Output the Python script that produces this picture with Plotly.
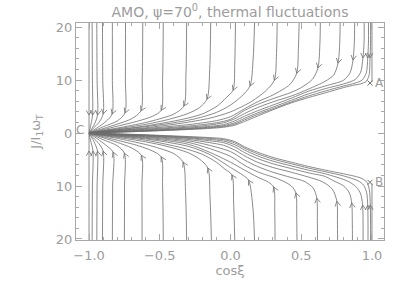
import plotly.graph_objects as go

# ---------------- text / ticks ----------------
title_text = "AMO, ψ=70<sup>0</sup>, thermal fluctuations"
x_title = "cosξ"
y_title = "J/I<sub>1</sub>ω<sub>T</sub>"
x_tick_vals = [-1.0, -0.5, 0.0, 0.5, 1.0]
x_tick_text = ["−1.0", "−0.5", "0.0", "0.5", "1.0"]
y_tick_vals = [-20, -10, 0, 10, 20]
y_tick_text = ["20", "10", "0", "10", "20"]

# ---------------- trajectories, upper half (J > 0) ----------------
upper_x = [
    [-1.0, -1.0, -1.0],
    [-0.978, -0.976, -0.975, -0.99, -1.0],
    [-0.945, -0.943, -0.94, -0.96, -0.985, -1.0],
    [-0.905, -0.903, -0.90, -0.93, -0.97, -1.0],
    [-0.835, -0.835, -0.837, -0.88, -0.94, -1.0],
    [-0.742, -0.743, -0.746, -0.8, -0.9, -1.0],
    [-0.62, -0.624, -0.633, -0.7, -0.8, -0.9, -1.0],
    [-0.475, -0.48, -0.49, -0.55, -0.65, -0.8, -0.9, -1.0],
    [-0.31, -0.315, -0.33, -0.4, -0.5, -0.6, -0.8, -0.9, -1.0],
    [-0.14, -0.147, -0.166, -0.22, -0.3, -0.45, -0.6, -0.8, -0.9, -1.0],
    [0.035, 0.03, 0.018, -0.03, -0.095, -0.2, -0.34, -0.6, -0.8, -0.9, -1.0],
    [0.17, 0.16, 0.138, 0.08, 0.0, -0.1, -0.25, -0.45, -0.7, -0.9, -1.0],
    [0.33, 0.325, 0.31, 0.25, 0.15, 0.0, -0.15, -0.35, -0.6, -0.85, -1.0],
    [0.485, 0.48, 0.468, 0.42, 0.3, 0.19, 0.1, 0.0, -0.1, -0.25, -0.45, -0.7, -0.9, -1.0],
    [0.635, 0.632, 0.618, 0.58, 0.5, 0.43, 0.3, 0.19, 0.1, 0.0, -0.1, -0.25, -0.45, -0.7, -0.9, -1.0],
    [0.775, 0.772, 0.76, 0.73, 0.67, 0.55, 0.43, 0.3, 0.19, 0.1, 0.03, -0.05, -0.2, -0.45, -0.7, -0.9, -1.0],
    [0.878, 0.875, 0.866, 0.845, 0.8, 0.67, 0.55, 0.43, 0.3, 0.19, 0.1, 0.03, -0.05, -0.2, -0.45, -0.7, -0.9, -1.0],
    [0.945, 0.944, 0.936, 0.92, 0.88, 0.8, 0.67, 0.55, 0.43, 0.3, 0.19, 0.1, 0.03, -0.05, -0.2, -0.45, -0.7, -0.9, -1.0],
    [0.975, 0.975, 0.97, 0.96, 0.93, 0.88, 0.8, 0.67, 0.55, 0.43, 0.3, 0.19, 0.1, 0.03, -0.05, -0.2, -0.45, -0.7, -0.9, -1.0],
    [0.99, 0.99, 0.986, 0.98, 0.96, 0.92, 0.88, 0.8, 0.67, 0.55, 0.43, 0.3, 0.19, 0.1, 0.03, -0.05, -0.2, -0.45, -0.7, -0.9, -1.0],
    [1.0, 1.0],
]
upper_j = [
    [20.8, 3.4, 0.0],
    [20.8, 10, 3.4, 1.2, 0.0],
    [20.8, 10, 3.4, 1.8, 0.6, 0.0],
    [20.8, 10, 3.6, 2.0, 0.9, 0.0],
    [20.8, 10, 3.6, 2.2, 1.05, 0.0],
    [20.8, 10, 3.8, 2.3, 1.2, 0.0],
    [20.8, 10, 4.2, 2.7, 1.7, 0.85, 0.0],
    [20.8, 10, 4.3, 3.2, 2.3, 1.3, 0.65, 0.0],
    [20.8, 11, 5.1, 3.6, 2.7, 2.0, 0.95, 0.5, 0.0],
    [20.8, 12, 6.4, 4.8, 3.7, 2.5, 1.65, 0.8, 0.42, 0.0],
    [20.8, 13, 8.1, 6.7, 5.1, 3.6, 2.6, 1.35, 0.65, 0.37, 0.0],
    [20.8, 14, 8.9, 7.0, 5.3, 3.9, 2.7, 1.75, 0.9, 0.33, 0.0],
    [20.8, 15, 10.0, 8.0, 6.0, 4.0, 2.8, 1.85, 1.0, 0.38, 0.0],
    [20.8, 16, 11.3, 9.2, 7.2, 5.9, 4.6, 3.1, 2.35, 1.75, 1.2, 0.65, 0.25, 0.0],
    [20.8, 17, 12.3, 10.2, 8.6, 7.7, 6.5, 5.4, 4.3, 2.6, 1.95, 1.45, 1.0, 0.55, 0.2, 0.0],
    [20.8, 17, 13.2, 11.0, 9.8, 8.3, 7.0, 5.9, 4.8, 3.7, 2.7, 1.95, 1.35, 0.85, 0.45, 0.17, 0.0],
    [20.8, 17, 13.8, 11.4, 10.0, 8.9, 7.9, 6.6, 5.3, 4.2, 3.2, 2.3, 1.6, 1.15, 0.72, 0.38, 0.14, 0.0],
    [20.8, 17, 14.2, 11.5, 10.1, 9.3, 8.4, 7.4, 6.2, 4.9, 3.8, 2.8, 1.95, 1.4, 1.0, 0.62, 0.32, 0.12, 0.0],
    [20.8, 17, 14.2, 11.4, 10.0, 9.45, 8.9, 7.95, 7.0, 5.9, 4.6, 3.5, 2.5, 1.7, 1.25, 0.9, 0.55, 0.28, 0.1, 0.0],
    [20.8, 17, 14.2, 11.0, 9.8, 9.3, 9.1, 8.6, 7.6, 6.7, 5.7, 4.4, 3.2, 2.2, 1.5, 1.1, 0.8, 0.5, 0.25, 0.08, 0.0],
    [20.8, 9.6],
]
upper_arrow_idx = [1, 2, 2, 2, 2, 2, 2, 2, 2, 2, 2, 2, 2, 2, 2, 2, 2, 2, 2, 2, None]

# ---------------- trajectories, lower half (J < 0) ----------------
lower_x = [
    [-1.0, -1.0, -1.0],
    [-0.978, -0.976, -0.972, -0.99, -1.0],
    [-0.945, -0.943, -0.94, -0.96, -0.985, -1.0],
    [-0.905, -0.903, -0.90, -0.93, -0.97, -1.0],
    [-0.835, -0.833, -0.83, -0.88, -0.94, -1.0],
    [-0.75, -0.749, -0.75, -0.8, -0.9, -1.0],
    [-0.625, -0.626, -0.63, -0.7, -0.8, -0.9, -1.0],
    [-0.475, -0.48, -0.49, -0.55, -0.65, -0.8, -0.9, -1.0],
    [-0.31, -0.318, -0.335, -0.4, -0.5, -0.6, -0.8, -0.9, -1.0],
    [-0.135, -0.145, -0.16, -0.22, -0.3, -0.45, -0.6, -0.8, -0.9, -1.0],
    [0.03, 0.022, 0.01, -0.04, -0.1, -0.2, -0.34, -0.6, -0.8, -0.9, -1.0],
    [0.17, 0.158, 0.128, 0.09, 0.0, -0.15, -0.3, -0.6, -0.8, -1.0],
    [0.315, 0.313, 0.305, 0.27, 0.19, 0.1, 0.0, -0.15, -0.3, -0.6, -0.8, -1.0],
    [0.47, 0.468, 0.462, 0.43, 0.35, 0.19, 0.1, 0.0, -0.15, -0.3, -0.6, -0.8, -1.0],
    [0.615, 0.614, 0.61, 0.585, 0.52, 0.43, 0.3, 0.19, 0.1, 0.0, -0.15, -0.3, -0.6, -0.8, -1.0],
    [0.757, 0.756, 0.752, 0.72, 0.65, 0.55, 0.43, 0.3, 0.19, 0.1, 0.03, -0.05, -0.15, -0.3, -0.6, -0.8, -1.0],
    [0.862, 0.861, 0.857, 0.84, 0.8, 0.72, 0.67, 0.55, 0.43, 0.3, 0.19, 0.1, 0.03, -0.05, -0.15, -0.3, -0.6, -0.8, -1.0],
    [0.937, 0.937, 0.934, 0.92, 0.89, 0.83, 0.67, 0.55, 0.43, 0.3, 0.19, 0.1, 0.03, -0.05, -0.15, -0.3, -0.6, -0.8, -1.0],
    [0.972, 0.972, 0.97, 0.962, 0.94, 0.9, 0.8, 0.67, 0.55, 0.43, 0.3, 0.19, 0.1, 0.03, -0.05, -0.15, -0.3, -0.6, -0.8, -1.0],
    [0.99, 0.99, 0.988, 0.982, 0.965, 0.93, 0.9, 0.8, 0.67, 0.55, 0.43, 0.3, 0.19, 0.1, 0.03, -0.05, -0.15, -0.3, -0.6, -0.8, -1.0],
    [1.0, 1.0],
]
lower_j = [
    [-20.2, -3.4, 0.0],
    [-20.2, -10, -3.4, -1.3, 0.0],
    [-20.2, -10, -3.4, -1.9, -0.65, 0.0],
    [-20.2, -10, -3.4, -2.0, -0.9, 0.0],
    [-20.2, -10, -3.6, -2.3, -1.1, 0.0],
    [-20.2, -10, -3.8, -2.4, -1.25, 0.0],
    [-20.2, -10, -4.2, -2.8, -1.75, -0.88, 0.0],
    [-20.2, -10, -4.5, -3.4, -2.4, -1.35, -0.68, 0.0],
    [-20.2, -11, -5.5, -3.9, -2.9, -2.15, -1.0, -0.5, 0.0],
    [-20.2, -12, -6.6, -4.9, -3.7, -2.5, -1.65, -0.8, -0.42, 0.0],
    [-20.2, -13, -7.9, -6.8, -5.5, -4.0, -2.8, -1.35, -0.65, -0.35, 0.0],
    [-20.2, -14, -8.9, -8.0, -6.5, -4.0, -2.5, -1.1, -0.56, 0.0],
    [-20.2, -15, -10.2, -9.3, -8.3, -7.0, -5.5, -3.6, -2.1, -0.95, -0.48, 0.0],
    [-20.2, -16, -11.3, -10.0, -8.8, -7.3, -6.1, -4.4, -2.9, -1.75, -0.8, -0.4, 0.0],
    [-20.2, -17, -12.3, -10.4, -9.1, -8.4, -7.4, -6.3, -5.1, -3.5, -2.3, -1.45, -0.68, -0.35, 0.0],
    [-20.2, -17, -12.9, -10.6, -9.2, -8.3, -7.4, -6.5, -5.5, -4.3, -3.2, -2.3, -1.8, -1.2, -0.58, -0.3, 0.0],
    [-20.2, -17, -13.2, -11.3, -10.0, -8.9, -8.2, -7.5, -6.7, -5.8, -4.8, -3.7, -2.6, -1.8, -1.45, -1.0, -0.5, -0.25, 0.0],
    [-20.2, -17, -13.6, -11.5, -10.2, -9.1, -7.7, -7.0, -6.2, -5.3, -4.3, -3.2, -2.2, -1.5, -1.2, -0.88, -0.43, -0.21, 0.0],
    [-20.2, -17, -13.6, -11.2, -9.8, -9.0, -8.1, -7.3, -6.6, -5.8, -4.9, -3.9, -2.85, -1.85, -1.25, -1.0, -0.75, -0.37, -0.18, 0.0],
    [-20.2, -17, -13.6, -10.8, -9.3, -8.6, -8.3, -7.7, -7.0, -6.3, -5.5, -4.6, -3.6, -2.6, -1.6, -1.05, -0.85, -0.65, -0.32, -0.15, 0.0],
    [-20.2, -9.5],
]
lower_arrow_idx = [1, 2, 2, 2, 2, 2, 2, 2, 2, 2, 2, 2, 2, 2, 2, 2, 2, 2, 2, 2, None]

# ---------------- special points ----------------
marked_names = ["A", "B"]
marked_x = [0.986, 0.986]
marked_j = [9.45, -9.3]
c_name = "C"
c_x = -1.0
c_j = 0.0

# ---------------- style ----------------
W, H = 407, 291
ML, MR, MT, MB = 76, 23, 23, 51
XR = [-1.092, 1.085]
YR = [-20.2, 20.8]
LINE = "#6c6c6c"
AXC = "#a8a8a8"
TXT = "#9c9c9c"
FONT = "DejaVu Sans"

pw = W - ML - MR
ph = H - MT - MB
sx = pw / (XR[1] - XR[0])
sy = ph / (YR[1] - YR[0])

fig = go.Figure()


def add_curves(xs_list, js_list):
    for xs, js in zip(xs_list, js_list):
        fig.add_trace(go.Scatter(
            x=xs, y=js, mode="lines",
            line=dict(color=LINE, width=0.8, shape="spline", smoothing=0.8),
            hoverinfo="skip", showlegend=False))


def unit(a, b):
    dx = (b[0] - a[0]) * sx
    dy = (b[1] - a[1]) * sy
    n = (dx * dx + dy * dy) ** 0.5
    return dx / n, dy / n


def chevrons(xs_list, js_list, idx_list, arm=5.5, cs=0.5, sn=0.866):
    """Open 'V' arrowheads along each curve, oriented along the local direction."""
    cx, cy = [], []
    for xs, js, k in zip(xs_list, js_list, idx_list):
        if k is None:
            continue
        p = (xs[k], js[k])
        u1 = unit((xs[k - 1], js[k - 1]), p)
        u2 = unit(p, (xs[k + 1], js[k + 1]))
        ux, uy = u1[0] + u2[0], u1[1] + u2[1]
        n = (ux * ux + uy * uy) ** 0.5
        ux, uy = ux / n, uy / n
        a1 = (-(ux * sn - uy * cs), -(uy * sn + ux * cs))
        a2 = (-(ux * sn + uy * cs), -(uy * sn - ux * cs))
        cx += [p[0] + a1[0] * arm / sx, p[0], p[0] + a2[0] * arm / sx, None]
        cy += [p[1] + a1[1] * arm / sy, p[1], p[1] + a2[1] * arm / sy, None]
    fig.add_trace(go.Scatter(x=cx, y=cy, mode="lines",
                             line=dict(color=LINE, width=0.8),
                             hoverinfo="skip", showlegend=False))


add_curves(upper_x, upper_j)
add_curves(lower_x, lower_j)
chevrons(upper_x, upper_j, upper_arrow_idx)
chevrons(lower_x, lower_j, lower_arrow_idx)

fig.add_trace(go.Scatter(
    x=marked_x, y=marked_j, mode="markers",
    marker=dict(symbol="x-thin-open", size=5, color=LINE, line=dict(color=LINE, width=1)),
    hoverinfo="skip", showlegend=False))

annotations = []
for name, x, j in zip(marked_names, marked_x, marked_j):
    annotations.append(dict(x=x, y=j, xref="x", yref="y", text=name, showarrow=False,
                            xanchor="left", yanchor="middle", xshift=3,
                            font=dict(family=FONT, size=12, color=TXT)))
annotations.append(dict(x=c_x, y=c_j, xref="x", yref="y", text=c_name, showarrow=False,
                        xanchor="right", yanchor="middle", xshift=-3, yshift=3,
                        font=dict(family=FONT, size=12, color=TXT)))

axis_common = dict(
    showgrid=False, zeroline=False, showline=True, linecolor=AXC, linewidth=1,
    mirror="allticks", ticks="inside", tickcolor=AXC, ticklen=6, tickwidth=1,
    tickfont=dict(family=FONT, size=13, color=TXT), automargin=False,
)

fig.update_layout(
    width=W, height=H,
    margin=dict(l=ML, r=MR, t=MT, b=MB, autoexpand=False),
    paper_bgcolor="white", plot_bgcolor="white",
    title=dict(text=title_text, x=0.5, xref="paper", xanchor="center",
               y=1 - 12 / H, yref="container", yanchor="middle", automargin=False,
               font=dict(family=FONT, size=14, color=TXT)),
    xaxis=dict(range=XR, tickvals=x_tick_vals, ticktext=x_tick_text,
               minor=dict(dtick=0.1, ticklen=3, tickcolor=AXC, ticks="inside"),
               title=dict(text=x_title, standoff=2, font=dict(family=FONT, size=13, color=TXT)),
               ticklabelstandoff=3,
               **axis_common),
    yaxis=dict(range=YR, tickvals=y_tick_vals, ticktext=y_tick_text,
               minor=dict(dtick=2, ticklen=3, tickcolor=AXC, ticks="inside"),
               title=dict(text=y_title, standoff=12, font=dict(family=FONT, size=13, color=TXT)),
               **axis_common),
    annotations=annotations,
)

fig.write_html("out.html",
               config={"displayModeBar": False},
               post_script="document.body.style.margin='0';document.body.style.overflow='hidden';")
